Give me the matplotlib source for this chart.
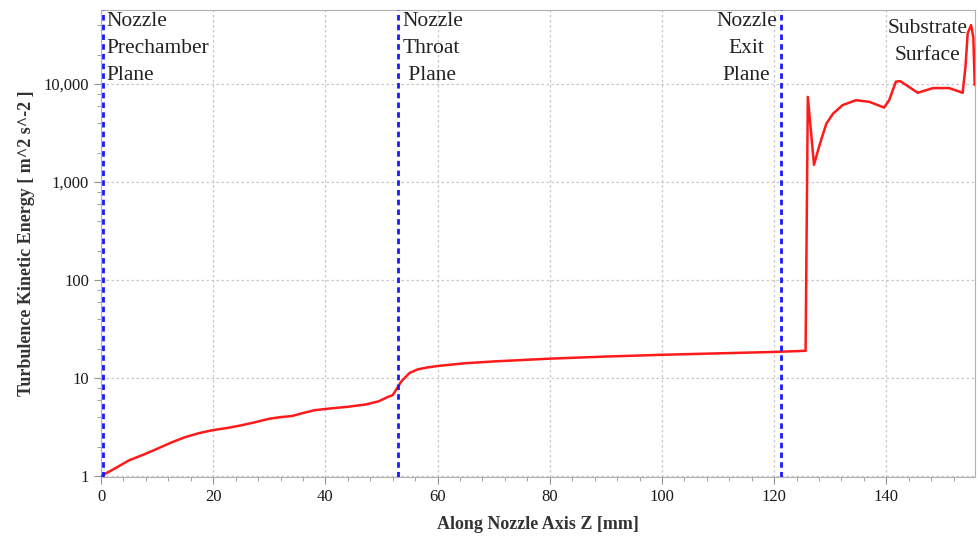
import matplotlib
matplotlib.use("Agg")
import matplotlib.pyplot as plt
from matplotlib.ticker import FixedLocator, MultipleLocator, FuncFormatter, LogLocator, NullFormatter

# Data
z_mm = [0, 2.5, 5, 7.5, 10, 12.5, 15, 17.5, 20, 22.5, 25, 27.5, 30, 32, 34, 36, 38,
        40.8, 44, 47.3, 49.5, 51.2, 52.0, 53.5, 55, 56.5, 58, 60, 65, 70, 80, 90,
        100, 110, 120, 125.6, 126.0, 127.1, 128.0, 129.3, 130.5, 132.2, 134.6, 137.0,
        139.6, 140.5, 141.7, 142.5, 143.5, 145.6, 148.3, 151.2, 153.6, 154.1, 154.5,
        155.1, 155.5, 155.75, 156.0]
tke = [1.0, 1.2, 1.45, 1.65, 1.9, 2.2, 2.5, 2.75, 2.95, 3.1, 3.3, 3.55, 3.85, 4.0, 4.1,
       4.4, 4.7, 4.9, 5.1, 5.4, 5.8, 6.45, 6.7, 9.2, 11.3, 12.3, 12.8, 13.3, 14.2,
       14.8, 15.8, 16.6, 17.3, 17.9, 18.5, 19.0, 7400, 1500, 2300, 3950, 5000, 6100,
       6850, 6580, 5760, 6850, 10600, 10700, 9800, 8150, 9100, 9100, 8150, 15000,
       33000, 40000, 30000, 9800, 9800]

plane_z = [0.3, 52.9, 121.2]
x_ticks = [0, 20, 40, 60, 80, 100, 120, 140]
y_ticks = [1, 10, 100, 1000, 10000]

serif = ["Liberation Serif", "DejaVu Serif"]

fig = plt.figure(figsize=(9.77, 5.41), dpi=100)
ax = fig.add_axes([101 / 977, 1 - 477 / 541, 874 / 977, 467 / 541])

ax.plot(z_mm, tke, color="#ff1a1a", lw=1.8, zorder=3)
for zp in plane_z:
    ax.axvline(zp, color="#1a1aff", lw=2.0, ls=(0, (2, 1.5)), zorder=4)

ax.set_yscale("log")
ax.set_xlim(0, 155.8)
ax.set_ylim(0.98, 57000)

ax.xaxis.set_major_locator(FixedLocator(x_ticks))
ax.xaxis.set_minor_locator(MultipleLocator(4))
ax.yaxis.set_major_locator(FixedLocator(y_ticks))
ax.yaxis.set_minor_locator(LogLocator(base=10, subs=[2, 4, 6, 8]))
ax.yaxis.set_minor_formatter(NullFormatter())
ax.yaxis.set_major_formatter(FuncFormatter(lambda v, p: f"{int(round(v)):,}"))

ax.grid(True, which="major", color="#c8c8c8", ls=(0, (2, 2)), lw=0.9)
for sp in ax.spines.values():
    sp.set_color("#b0b0b0")
ax.tick_params(which="both", direction="out", color="#909090", labelsize=12)
ax.tick_params(which="major", length=5)
ax.tick_params(which="minor", length=3)
for lab in ax.get_xticklabels() + ax.get_yticklabels():
    lab.set_fontfamily(serif)
    lab.set_color("#1a1a1a")

ax.set_xlabel("Along Nozzle Axis Z [mm]", fontfamily=serif, fontsize=13,
              fontweight="bold", color="#333333", labelpad=8)
ax.set_ylabel("Turbulence Kinetic Energy [ m^2 s^-2 ]", fontfamily=serif, fontsize=13,
              fontweight="bold", color="#333333", labelpad=6)

tkw = dict(fontfamily=serif, fontsize=15.5, color="#222222", va="top",
           linespacing=1.55, transform=ax.get_xaxis_transform(), zorder=5)
ax.text(1.0, 0.995, "Nozzle\nPrechamber\nPlane", ha="left", **tkw)
ax.text(53.8, 0.995, "Nozzle\nThroat\n Plane", ha="left", **tkw)
ax.text(120.5, 0.995, "Nozzle\nExit\nPlane", ha="right", multialignment="center", **tkw)
ax.text(147.3, 0.981, "Substrate\nSurface", ha="center", multialignment="center", **tkw)

fig.savefig("out.png", dpi=100)
